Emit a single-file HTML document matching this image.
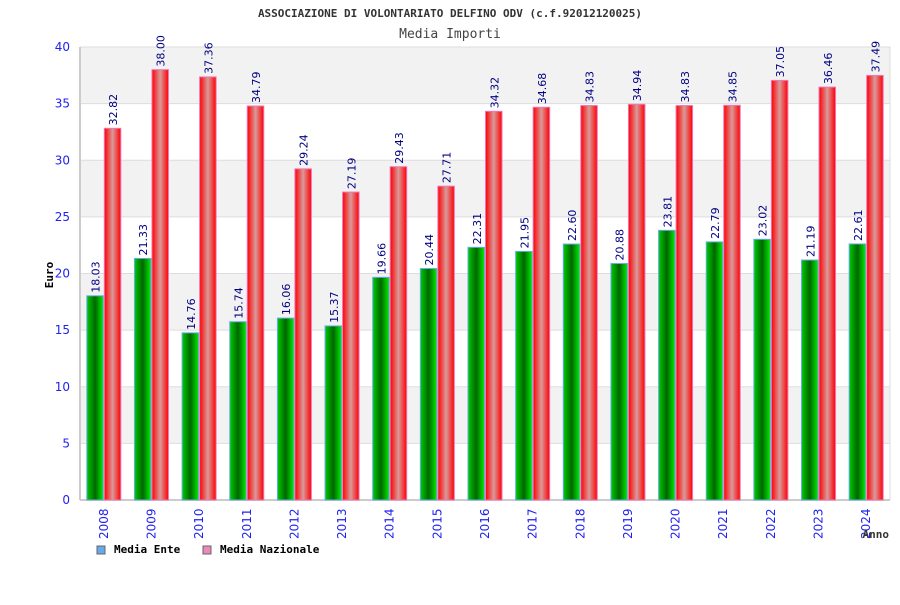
<!DOCTYPE html>
<html><head><meta charset="utf-8"><style>
body{margin:0;background:#fff;width:900px;height:600px;overflow:hidden}
svg text{font-family:"DejaVu Sans Mono","Liberation Mono",monospace}
svg text.s{font-family:"DejaVu Sans","Liberation Sans",sans-serif}
</style></head><body>
<svg id="c" width="900" height="600" xmlns="http://www.w3.org/2000/svg">
<defs>
<linearGradient id="gG" x1="0" x2="1"><stop offset="0" stop-color="#00cc00"/><stop offset="0.5" stop-color="#006600"/><stop offset="1" stop-color="#00ee00"/></linearGradient>
<linearGradient id="gR" x1="0" x2="1"><stop offset="0" stop-color="#ff0000"/><stop offset="0.5" stop-color="#d99a9a"/><stop offset="1" stop-color="#ff0000"/></linearGradient>
</defs>
<text x="450" y="17" text-anchor="middle" font-size="11" font-weight="bold" fill="#333">ASSOCIAZIONE DI VOLONTARIATO DELFINO ODV (c.f.92012120025)</text>
<text x="450" y="38" text-anchor="middle" font-size="13" fill="#444">Media Importi</text>
<g id="grid"></g>
<g id="bars"></g>
<text transform="translate(53,275) rotate(-90)" text-anchor="middle" font-size="11" font-weight="bold" fill="#000">Euro</text>
<text x="889" y="538" text-anchor="end" font-size="11" font-weight="bold" fill="#333">Anno</text>
<g><rect x="97" y="546" width="8" height="8" fill="#66aaee" stroke="#666"/><text x="114" y="553" font-size="11" font-weight="bold" fill="#000">Media Ente</text></g>
<g><rect x="203" y="546" width="8" height="8" fill="#ee88bb" stroke="#666"/><text x="220" y="553" font-size="11" font-weight="bold" fill="#000">Media Nazionale</text></g>
</svg>
<script>
const years=["2008","2009","2010","2011","2012","2013","2014","2015","2016","2017","2018","2019","2020","2021","2022","2023","2024"];
const ente=[18.03,21.33,14.76,15.74,16.06,15.37,19.66,20.44,22.31,21.95,22.60,20.88,23.81,22.79,23.02,21.19,22.61];
const naz=[32.82,38.00,37.36,34.79,29.24,27.19,29.43,27.71,34.32,34.68,34.83,34.94,34.83,34.85,37.05,36.46,37.49];
const yTicks=[0,5,10,15,20,25,30,35,40];
const NS="http://www.w3.org/2000/svg";
const L=80,R=890,T=47,B=500,yMax=40;
const y=v=>B-(v/yMax)*(B-T);
const gw=(R-L)/years.length;
const xc=i=>L+gw*(i+0.5);
function mk(t,a,p){const e=document.createElementNS(NS,t);for(const k in a)e.setAttribute(k,a[k]);p.appendChild(e);return e;}
const g=document.getElementById('grid');
for(let i=0;i<yTicks.length-1;i++){
  if(i%2===1){const r=mk('rect',{x:L,y:y(yTicks[i+1]),width:R-L,height:y(yTicks[i])-y(yTicks[i+1]),fill:'#f2f2f2'},g);
  
  }
}
yTicks.forEach(v=>{
  const l=mk('line',{x1:L,x2:R,y1:y(v),y2:y(v),stroke:'#ddd'},g);
  
  
  const t=mk('text',{x:70,y:y(v)+4,'text-anchor':'end','font-size':12,fill:'#2222ee',class:'s'},g);t.textContent=v;
  
  
});
mk('polyline',{points:`${L},${T} ${R},${T} ${R},${B}`,fill:'none',stroke:'#ddd'},g);
mk('line',{x1:L,x2:R,y1:B,y2:B,stroke:'#ccc',"stroke-width":2},g);
mk('line',{x1:L,x2:L,y1:T,y2:B,stroke:'#ccc',"stroke-width":2},g);
const b=document.getElementById('bars');
years.forEach((yr,i)=>{
  const c=xc(i),w=16.5;
  const g1=mk('rect',{x:c-w-0.5,y:y(ente[i]),width:w,height:B-y(ente[i]),fill:'url(#gG)',stroke:'#66aaee','stroke-width':1},b);
  
  
  const r1=mk('rect',{x:c+0.5,y:y(naz[i]),width:w,height:B-y(naz[i]),fill:'url(#gR)',stroke:'#ee77bb','stroke-width':1},b);
  
  
  [[c-w/2,ente[i]],[c+w/2+1,naz[i]]].forEach(([xx,v])=>{
    const t=mk('text',{transform:`translate(${xx+4},${y(v)-3}) rotate(-90)`,'font-size':11,fill:'#000080',class:'s'},b);
    t.textContent=v.toFixed(2);
    
    
  });
  const t=mk('text',{transform:`translate(${c+4},${539}) rotate(-90)`,'font-size':12,fill:'#2222ee',class:'s'},b);
  t.textContent=yr;
  
  
});
</script>
</body></html>
